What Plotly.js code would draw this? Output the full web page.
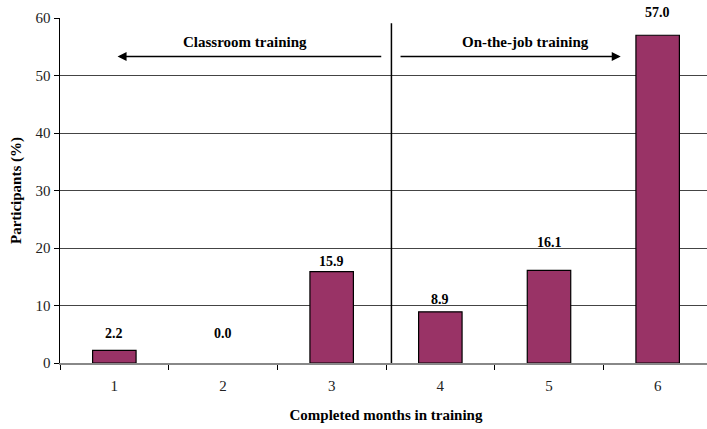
<!DOCTYPE html>
<html>
<head>
<meta charset="utf-8">
<script src="https://cdn.plot.ly/plotly-3.0.1.min.js"></script>
<style>html,body{margin:0;padding:0;overflow:hidden;background:#fff;}</style>
</head>
<body>
<div id="chart" style="width:712px;height:429px;"></div>
<script>
// Data
const months = ['1', '2', '3', '4', '5', '6'];
const participants = [2.2, 0.0, 15.9, 8.9, 16.1, 57.0];
const valueLabels = ['2.2', '0.0', '15.9', '8.9', '16.1', '57.0'];
const labelHeights = [5.2, 5.2, 17.6, 11.1, 21.0, 60.9];
const sectionLabels = ['Classroom training', 'On-the-job training'];
const yTicks = [0, 10, 20, 30, 40, 50, 60];

const FONT = 'Liberation Serif, DejaVu Serif, serif';
const PX_PER_UNIT = 345 / 60;

const annotations = months.map((m, i) => ({
  x: i, y: participants[i], xref: 'x', yref: 'y',
  yshift: (labelHeights[i] - participants[i]) * PX_PER_UNIT,
  text: '<b>' + valueLabels[i] + '</b>', showarrow: false,
  font: {family: FONT, size: 14, color: '#000'}, yanchor: 'middle'
}));

// Section arrows
annotations.push({
  x: 0.03, y: 53.3, ax: 2.47, ay: 53.3, xref: 'x', yref: 'y', axref: 'x', ayref: 'y',
  text: '', showarrow: true, arrowhead: 2, arrowsize: 1.2, arrowwidth: 1.5, arrowcolor: '#000', standoff: 0, startstandoff: 0
});
annotations.push({
  x: 4.66, y: 53.3, ax: 2.62, ay: 53.3, xref: 'x', yref: 'y', axref: 'x', ayref: 'y',
  text: '', showarrow: true, arrowhead: 2, arrowsize: 1.2, arrowwidth: 1.5, arrowcolor: '#000', standoff: 0, startstandoff: 0
});
annotations.push({
  x: 1.2, y: 55.9, xref: 'x', yref: 'y', text: '<b>' + sectionLabels[0] + '</b>', showarrow: false,
  font: {family: FONT, size: 15, color: '#000'}
});
annotations.push({
  x: 3.78, y: 55.9, xref: 'x', yref: 'y', text: '<b>' + sectionLabels[1] + '</b>', showarrow: false,
  font: {family: FONT, size: 15, color: '#000'}
});

const trace = {
  type: 'bar', x: months, y: participants, width: 0.4,
  marker: {color: '#993366', line: {color: '#000', width: participants.map(v => v > 0 ? 1.2 : 0)}},
  hoverinfo: 'skip'
};

const layout = {
  width: 712, height: 429,
  margin: {l: 60, r: 0, t: 18, b: 66},
  paper_bgcolor: '#fff', plot_bgcolor: '#fff',
  showlegend: false,
  font: {family: FONT, size: 14, color: '#222'},
  xaxis: {
    type: 'category', range: [-0.5, 5.5], tickson: 'boundaries',
    ticks: 'outside', ticklen: 5, tickcolor: '#000', tickwidth: 1,
    ticklabelstandoff: 8,
    showline: true, linecolor: '#888', linewidth: 2,
    showgrid: false, zeroline: false,
    tickfont: {family: FONT, size: 15, color: '#222'},
    title: {text: '<b>Completed months in training</b>', font: {family: FONT, size: 15, color: '#000'}, standoff: 16}
  },
  yaxis: {
    range: [0, 60], tickvals: yTicks, ticks: 'outside', ticklen: 5, tickcolor: '#000',
    showline: true, linecolor: '#000', linewidth: 1.5,
    showgrid: true, gridcolor: '#444', gridwidth: 1, zeroline: false,
    tickfont: {family: FONT, size: 15, color: '#222'},
    title: {text: '<b>Participants (%)</b>', font: {family: FONT, size: 15, color: '#000'}, standoff: 10}
  },
  shapes: [{
    type: 'line', xref: 'x', yref: 'y', x0: 2.55, x1: 2.55, y0: 0, y1: 59.1,
    line: {color: '#000', width: 1.5}
  }],
  annotations: annotations
};

Plotly.newPlot('chart', [trace], layout, {displayModeBar: false, staticPlot: true});
</script>
</body>
</html>
